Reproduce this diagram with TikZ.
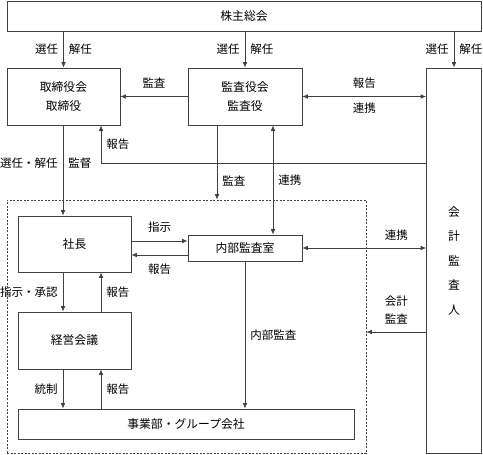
\documentclass[tikz,border=0pt]{standalone}
\usepackage{fontspec}
\setmainfont{Noto Sans CJK JP}
\usetikzlibrary{arrows.meta}
\begin{document}
\begin{tikzpicture}[x=1pt, y=-1pt,
  box/.style={draw=black!75, line width=0.7pt, inner sep=0pt, align=center,
    font=\fontsize{11.8}{19}\selectfont},
  arr/.style={-{Latex[length=5.5pt,width=4.5pt]}, draw=black!75, line width=0.7pt},
  arrb/.style={{Latex[length=5.5pt,width=4.5pt]}-{Latex[length=5.5pt,width=4.5pt]},
    draw=black!75, line width=0.7pt},
  lbl/.style={font=\fontsize{11.5}{18}\selectfont, inner sep=2pt, align=center}]
  \useasboundingbox (0,0) rectangle (483,455);
  \node (soukai) at (244,16) [box, minimum width=474, minimum height=30] {株主総会};
  \node (torishimari) at (63.5,96.5) [box, minimum width=113, minimum height=57] {取締役会\\取締役};
  \node (kansayaku) at (245,96.5) [box, minimum width=114, minimum height=57] {監査役会\\監査役};
  \node (kaikei) at (454,260.5) [box, minimum width=55, minimum height=385,
    font=\fontsize{11.8}{24.5}\selectfont] {会\\計\\監\\査\\人};
  \node (grp) at (186.5,326.5) [draw=black!75, line width=0.7pt,
    dash pattern=on 2pt off 1.5pt, minimum width=359, minimum height=253] {};
  \node (shacho) at (74.5,244) [box, minimum width=113, minimum height=56] {社長};
  \node (naibu) at (245,248) [box, minimum width=114, minimum height=26] {内部監査室};
  \node (keiei) at (74.5,340.5) [box, minimum width=113, minimum height=57] {経営会議};
  \node (jigyo) at (186,424) [box, minimum width=336, minimum height=30] {事業部・グループ会社};
  \coordinate (cA) at (63,0);
  \coordinate (cB) at (101,0);
  \coordinate (cC) at (217,0);
  \coordinate (cD) at (273,0);
  \coordinate (r1) at (0,163);
  \coordinate (r2) at (0,241);
  \coordinate (r3) at (0,255);
  \coordinate (r4) at (0,332);
  \draw[arr] (soukai.south -| torishimari.north) -- node[lbl,left=3pt]{選任} node[lbl,right=3pt]{解任} (torishimari.north);
  \draw[arr] (soukai.south -| kansayaku.north) -- node[lbl,left=3pt]{選任} node[lbl,right=3pt]{解任} (kansayaku.north);
  \draw[arr] (soukai.south -| kaikei.north) -- node[lbl,left=3pt]{選任} node[lbl,right=3pt]{解任} (kaikei.north);
  \draw[arr] (kansayaku.west) -- node[lbl,above=6pt]{監査} (torishimari.east);
  \draw[arrb] (kansayaku.east) -- node[lbl,above=6pt]{報告} node[lbl,below=4pt]{連携} (kansayaku.east -| kaikei.west);
  \draw[arr] (kaikei.west |- r1) -| node[lbl,right=3pt,pos=0.75]{報告} (torishimari.south -| cB);
  \draw[arr] (torishimari.south -| cA) -- node[lbl,left=3pt,pos=0.42]{選任・解任} node[lbl,right=3pt,pos=0.42]{監督} (shacho.north -| cA);
  \draw[arr] (kansayaku.south -| cC) -- node[lbl,right=3pt,pos=0.75]{監査} (grp.north -| cC);
  \draw[arrb] (kansayaku.south -| cD) -- node[lbl,right=3pt]{連携} (naibu.north -| cD);
  \draw[arr] (shacho.east |- r2) -- node[lbl,above=6pt]{指示} (naibu.west |- r2);
  \draw[arr] (naibu.west |- r3) -- node[lbl,below=6pt]{報告} (shacho.east |- r3);
  \draw[arrb] (naibu.east) -- node[lbl,above=5pt,pos=0.76]{連携} (naibu.east -| kaikei.west);
  \draw[arr] (kaikei.west |- r4) -- node[lbl,above=5pt]{会計\\監査} (grp.east |- r4);
  \draw[arr] (shacho.south -| cA) -- node[lbl,left=3pt]{指示・承認} (keiei.north -| cA);
  \draw[arr] (keiei.north -| cB) -- node[lbl,right=3pt]{報告} (shacho.south -| cB);
  \draw[arr] (naibu.south) -- node[lbl,right=3pt]{内部監査} (naibu.south |- jigyo.north);
  \draw[arr] (keiei.south -| cA) -- node[lbl,left=3pt]{統制} (jigyo.north -| cA);
  \draw[arr] (jigyo.north -| cB) -- node[lbl,right=3pt]{報告} (keiei.south -| cB);
\end{tikzpicture}
\end{document}
